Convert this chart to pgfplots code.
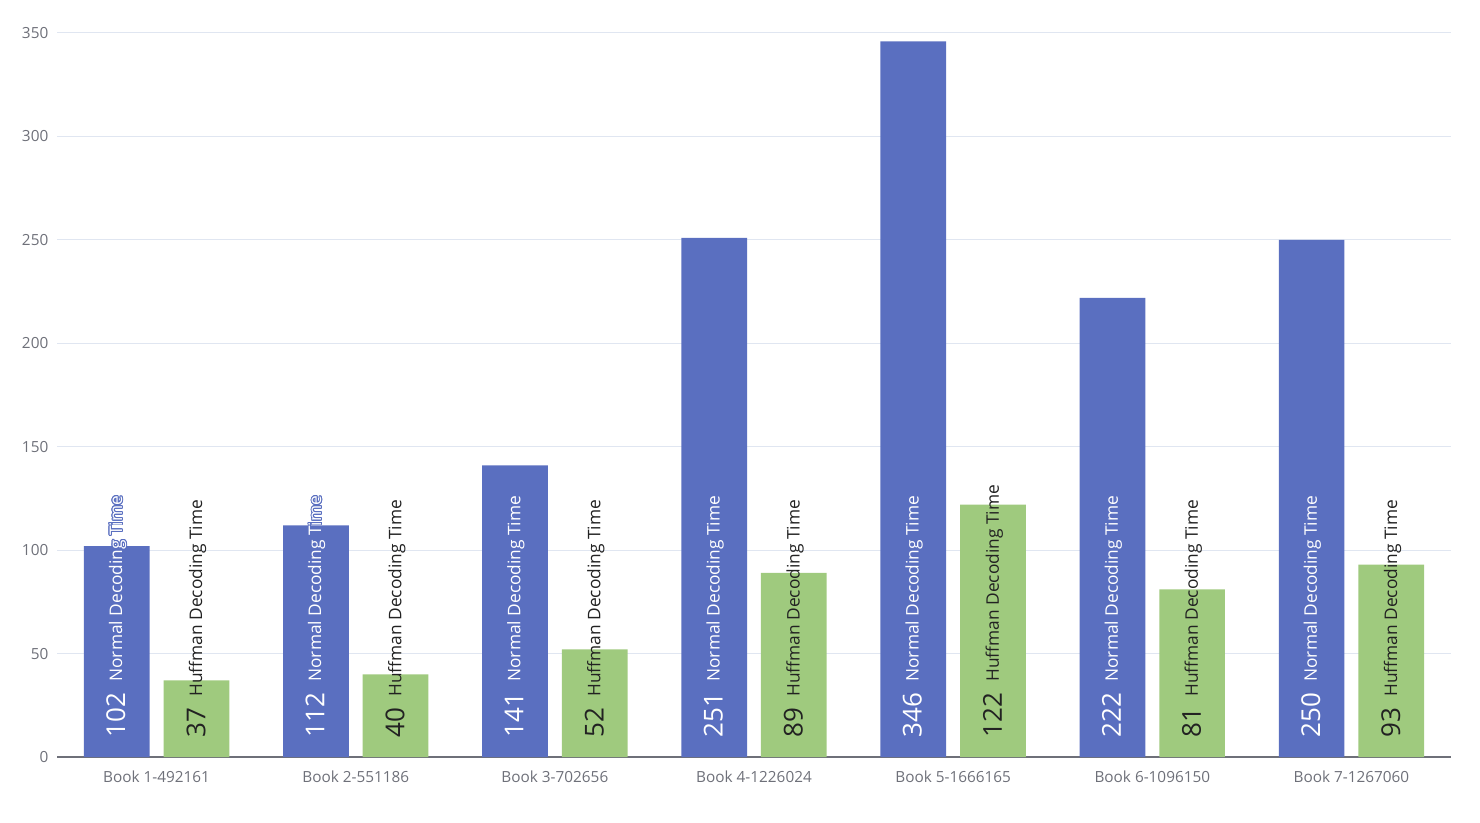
\documentclass[border=0pt]{standalone}
\usepackage{fontspec}
\setmainfont{Open Sans}
\usepackage{pgfplots}
\usepackage{pgfplotstable}
\pgfplotsset{compat=1.18}
\usepackage{contour}
\contourlength{0.7pt}
\definecolor{cblue}{HTML}{5A6FC0}
\definecolor{cgreen}{HTML}{9FCA7E}
\definecolor{gridc}{HTML}{E0E6F1}
\definecolor{axisgray}{HTML}{6E7079}
\definecolor{darktext}{HTML}{222222}

\pgfplotstableread{
x normal huffman
0 102 37
1 112 40
2 141 52
3 251 89
4 346 122
5 222 81
6 250 93
}\datatable

\newcommand{\numfont}{\fontsize{19.5}{19.5}\selectfont}
\newcommand{\namefont}{\fontsize{13}{13}\selectfont}

\begin{document}
\begin{tikzpicture}
\begin{axis}[
  scale only axis,
  width=1045.5pt, height=543pt,
  xmin=-0.5, xmax=6.5, ymin=0, ymax=350,
  xtick={0,...,6},
  xticklabels={Book 1-492161,Book 2-551186,Book 3-702656,Book 4-1226024,Book 5-1666165,Book 6-1096150,Book 7-1267060},
  ytick={0,50,...,350},
  axis line style={draw=none},
  major tick length=0pt,
  tick style={draw=none},
  ymajorgrids,
  grid style={gridc, line width=0.75pt},
  extra y ticks={0},
  extra y tick labels={},
  extra y tick style={grid style={axisgray, line width=0.9pt}},
  /pgf/number format/assume math mode=true,
  ticklabel style={font=\fontsize{11.5}{11.5}\selectfont, text=axisgray},
  yticklabel style={xshift=-3pt},
  xticklabel style={yshift=-6.5pt},
  clip=false,
]
\addplot[ybar, bar width=0.33, bar shift=-0.2, fill=cblue, draw=none]
  table[x=x, y=normal] {\datatable};
\addplot[ybar, bar width=0.33, bar shift=0.2, fill=cgreen, draw=none]
  table[x=x, y=huffman] {\datatable};
% labels inside bars (blue)
\addplot[draw=none, mark=none, nodes near coords={\contour{cblue}{\numfont\pgfplotspointmeta}\hspace{8.5pt}\raisebox{2.3pt}{\contour{cblue}{\namefont Normal Decoding Time}}},
  point meta=explicit symbolic,
  nodes near coords style={anchor=west, rotate=90, inner sep=0pt, text=white}]
  table[x expr=\thisrow{x}-0.2, y expr=9.3, meta=normal] {\datatable};
% labels inside bars (green)
\addplot[draw=none, mark=none, nodes near coords={{\numfont\pgfplotspointmeta}\hspace{8.5pt}\raisebox{2.3pt}{\namefont Huffman Decoding Time}},
  point meta=explicit symbolic,
  nodes near coords style={anchor=west, rotate=90, inner sep=0pt, text=darktext}]
  table[x expr=\thisrow{x}+0.2, y expr=9.3, meta=huffman] {\datatable};
\end{axis}
\pgfresetboundingbox
\path[use as bounding box] ([xshift=-42.75pt, yshift=-48.75pt]current axis.south west) rectangle ([xshift=21.75pt, yshift=24.75pt]current axis.north east);
\end{tikzpicture}
\end{document}
